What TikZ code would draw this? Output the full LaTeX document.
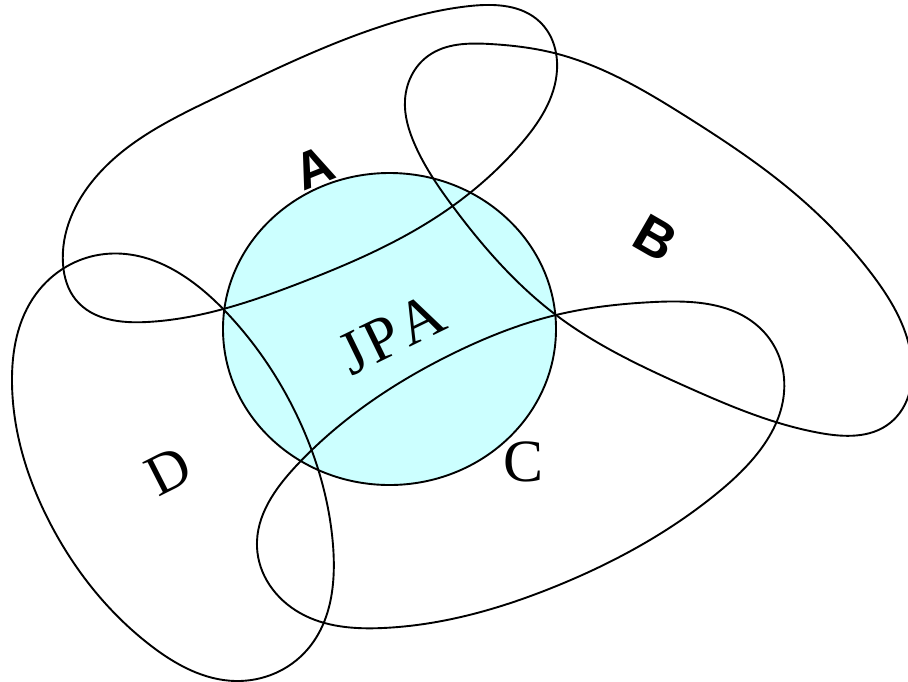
\documentclass[tikz,border=0pt]{standalone}
\usepackage{fontspec}
\usepackage{tikz}
\usetikzlibrary{hobby}
\newfontfamily\labsans{Liberation Sans}
\newfontfamily\labserif{Liberation Serif}
\definecolor{jpacyan}{HTML}{CCFFFF}

\begin{document}
\begin{tikzpicture}[x=1pt, y=-1pt, line width=1.9pt, line cap=round, line join=round]

  %% ════ centre disc ════
  \filldraw[fill=jpacyan, draw=black] (389.5,329.0) ellipse [x radius=166.5, y radius=156.0];

  %% ════ loops ════
  %% closed Hobby curves, only a few points per loop so they stay round
  %% A: upper left, long axis to the upper right
  \draw plot[closed hobby] coordinates {
    (63.0,264.0) (95.0,178.0) (217.0,97.0) (395.0,22.0) (470.0,6.0) (540.0,22.0)
    (557.0,70.0) (520.0,145.0) (447.0,210.0) (300.0,283.0) (147.0,322.0) (76.0,300.0)};

  %% B: upper right, runs off the right edge
  \draw plot[closed hobby] coordinates {
    (405.0,100.0) (428.0,56.0) (490.0,44.0) (554.0,53.0) (687.0,117.0) (787.0,187.0)
    (871.0,273.0) (911.0,355.0) (890.0,423.0) (820.0,433.0) (687.0,387.0) (556.0,315.0)
    (454.0,208.0) (415.0,145.0)};

  %% C: lower right
  \draw plot[closed hobby] coordinates {
    (257.0,547.0) (297.0,465.0) (454.0,353.0) (556.0,315.0) (654.0,302.0) (760.0,328.0)
    (784.0,378.0) (721.0,490.0) (554.0,587.0) (383.0,628.0) (300.0,613.0)};

  %% D: lower left, down to the bottom edge
  \draw plot[closed hobby] coordinates {
    (12.0,383.0) (36.0,294.0) (105.0,254.0) (227.0,313.0) (300.0,422.0) (333.0,545.0)
    (307.0,650.0) (236.0,681.0) (150.0,645.0) (50.0,523.0)};

  %% ════ labels ════
  \node[inner sep=0pt, rotate=22,  font=\labsans\bfseries\fontsize{52}{62}\selectfont]  (labA)   at (314.0,168.0) {A};
  \node[inner sep=0pt, rotate=-30, font=\labsans\bfseries\fontsize{54}{64}\selectfont]  (labB)   at (656.0,238.0) {B};
  \node[inner sep=0pt,             font=\labserif\fontsize{60}{72}\selectfont]          (labC)   at (524.0,462.0) {C};
  \node[inner sep=0pt, rotate=27,  font=\labserif\fontsize{58}{70}\selectfont]          (labD)   at (169.0,471.0) {D};
  \node[inner sep=0pt, rotate=26,  font=\labserif\fontsize{62}{74}\selectfont]          (labJPA) at (392.0,334.0) {J\kern2pt P\kern4pt A};

  % fix the canvas to the reference size
  \pgfresetboundingbox
  \path[use as bounding box] (0,0) rectangle (908,681);
\end{tikzpicture}
\end{document}
